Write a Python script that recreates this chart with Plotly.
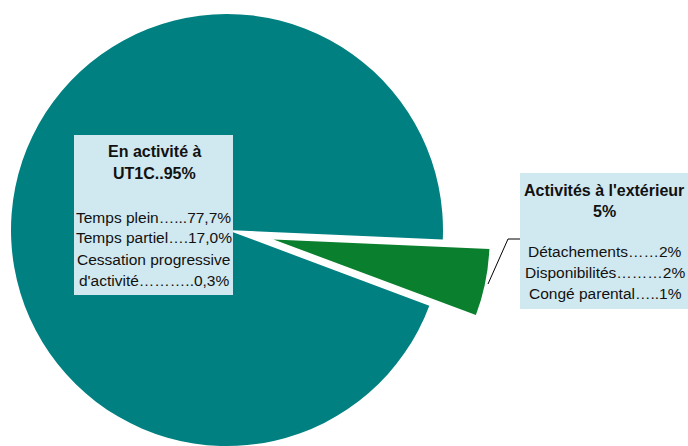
import math
import plotly.graph_objects as go

# Staff breakdown (percent)
categories = ["Activités à l'extérieur", "En activité à UT1C"]
values = [5, 95]

inside_title = ["En activité à", "UT1C..95%"]
inside_lines = ["Temps plein…...77,7%", "Temps partiel….17,0%",
                "Cessation progressive", "d'activité………..0,3%"]
outside_title = ["Activités à l'extérieur", "5%"]
outside_lines = ["Détachements……2%", "Disponibilités………2%", "Congé parental…..1%"]

TEAL = "#008080"
GREEN = "#0A7F2E"
BOX = "#D0E8EF"
CLEAR = "rgba(0,0,0,0)"

W, H = 688, 456
CX, CY, R = 227, 230, 216          # pie centre / radius in pixels
ROTATION = 92.5                    # start angle of first slice, clockwise from 12 o'clock
PULL = 0.22                        # exploded slice offset, fraction of radius


def dom(cx, cy):
    return dict(x=[(cx - R) / W, (cx + R) / W],
                y=[max(0.0, 1 - (cy + R) / H), 1 - (cy - R) / H])


# offset of the exploded slice along its bisector
mid = math.radians(ROTATION + 360 * values[0] / sum(values) / 2)
off = PULL * R
gx, gy = CX + off * math.sin(mid), CY - off * math.cos(mid)

common = dict(labels=categories, values=values, sort=False, direction="clockwise",
              rotation=ROTATION, textinfo="none", hoverinfo="skip", showlegend=False)

fig = go.Figure()
fig.add_trace(go.Pie(marker=dict(colors=[CLEAR, TEAL], line=dict(width=0)),
                     domain=dom(CX, CY), **common))
fig.add_trace(go.Pie(marker=dict(colors=[GREEN, CLEAR], line=dict(width=0)),
                     domain=dom(gx, gy), **common))


def px(x, y):
    return x / W, 1 - y / H


shapes = []
for (x0, y0, x1, y1) in [(74, 135, 233, 295), (520, 173, 688, 309)]:
    a, b = px(x0, y0)
    c, d = px(x1, y1)
    shapes.append(dict(type="rect", xref="paper", yref="paper", x0=a, y0=d, x1=c, y1=b,
                       fillcolor=BOX, line=dict(width=0), layer="above"))

# leader line from the exploded slice to its label box
pts = [px(520, 239), px(508, 239), px(488, 284)]
path = "M {} {} L {} {} L {} {}".format(*[v for p in pts for v in p])
shapes.append(dict(type="path", xref="paper", yref="paper", path=path,
                   line=dict(color="#000000", width=1)))

FONT = "Liberation Sans, Arial, sans-serif"
FS = 15.5
FS_TITLE = 16
annotations = []


def add_line(text, x, y, bold=False):
    xx, yy = px(x, y)
    annotations.append(dict(text=f"<b>{text}</b>" if bold else text, x=xx, y=yy,
                            xref="paper", yref="paper", xanchor="center", yanchor="middle",
                            showarrow=False,
                            font=dict(family=FONT, size=FS_TITLE if bold else FS,
                                      color="#111111")))


for t, y in zip(inside_title, [152, 174]):
    add_line(t, 154.5, y, bold=True)
for t, y in zip(inside_lines, [217, 238, 259, 280]):
    add_line(t, 153.5, y)
for t, y in zip(outside_title, [190, 211]):
    add_line(t, 604, y, bold=True)
for t, y in zip(outside_lines, [251, 272, 293]):
    add_line(t, 605, y)

fig.update_layout(width=W, height=H, margin=dict(l=0, r=0, t=0, b=0),
                  paper_bgcolor="white", plot_bgcolor="white",
                  shapes=shapes, annotations=annotations)

fig.write_html("out.html")
